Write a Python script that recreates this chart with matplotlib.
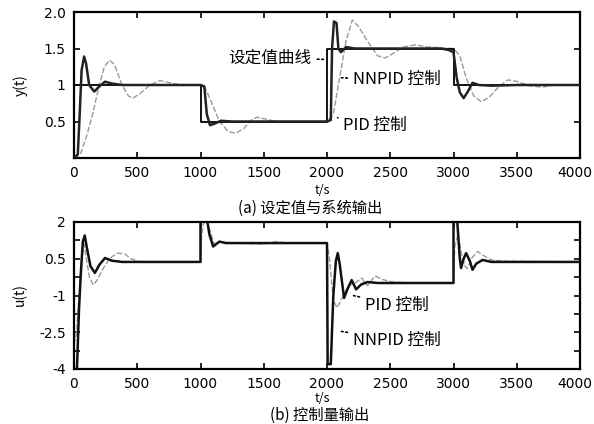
import matplotlib
matplotlib.use("Agg")
import matplotlib.pyplot as plt
from matplotlib.transforms import ScaledTranslation

plt.rcParams['font.family'] = ['Noto Sans CJK SC', 'DejaVu Sans']

# ---------------- data ----------------
xticks = [0, 500, 1000, 1500, 2000, 2500, 3000, 3500, 4000]
xticklabels = ['0', '500', '1000', '1500', '2000', '2500', '3000', '3500', '4000']

top_yticks = [0, 0.5, 1.0, 1.5, 2.0]
top_yticklabels = ['', '0.5', '1', '1.5', '2.0']
bot_yticks = [-4, -2.5, -1, 0.5, 2]
bot_yticklabels = ['-4', '-2.5', '-1', '0.5', '2']
bot_yminor = [-3.25, -1.75, -0.25, 1.25]

# set-point curve
t_sp = [0, 0, 1000, 1000, 2000, 2000, 3000, 3000, 4000]
y_sp = [0, 1, 1, 0.5, 0.5, 1.5, 1.5, 1, 1]

# NNPID output y(t)
t_nn = [0, 30, 45, 60, 80, 95, 120, 160, 200, 245, 300, 380, 1000, 1030, 1050,
        1075, 1110, 1160, 1250, 2000, 2030, 2040, 2055, 2075, 2090, 2110, 2150,
        2220, 2900, 2960, 3000, 3025, 3050, 3080, 3110, 3150, 3200, 3300, 3500, 4000]
y_nn = [0, 0.05, 0.6, 1.2, 1.39, 1.3, 1.0, 0.91, 0.98, 1.045, 1.02, 1.0, 1.0, 0.98, 0.6,
        0.45, 0.47, 0.51, 0.5, 0.5, 0.52, 1.5, 1.87, 1.85, 1.5, 1.45, 1.52,
        1.5, 1.5, 1.48, 1.45, 1.1, 0.9, 0.82, 0.9, 1.03, 1.0, 0.99, 1.0, 1.0]

# PID output y(t)
t_pid = [0, 50, 100, 150, 200, 240, 280, 320, 380, 430, 465, 520, 600, 680, 760, 850,
         1000, 1040, 1090, 1150, 1220, 1280, 1340, 1400, 1450, 1520, 1600, 2000, 2050,
         2100, 2150, 2200, 2250, 2320, 2400, 2460, 2520, 2600, 2700, 2800, 3000, 3050,
         3100, 3160, 3220, 3280, 3360, 3430, 3500, 3600, 3700, 3800, 4000]
y_pid = [0, 0.05, 0.3, 0.62, 1.0, 1.25, 1.34, 1.28, 1.0, 0.85, 0.82, 0.88, 1.0, 1.06, 1.03, 1.0,
         1.0, 0.95, 0.75, 0.5, 0.36, 0.34, 0.4, 0.52, 0.56, 0.53, 0.5, 0.5, 0.6,
         1.1, 1.6, 1.89, 1.8, 1.6, 1.4, 1.37, 1.43, 1.52, 1.55, 1.52, 1.5, 1.4,
         1.1, 0.85, 0.77, 0.83, 0.98, 1.07, 1.05, 0.99, 0.97, 1.0, 1.0]

# NNPID control u(t)
tu_nn = [0, 20, 40, 55, 70, 85, 100, 130, 165, 200, 245, 300, 380, 1000, 1000, 1040,
         1070, 1100, 1150, 1200, 2000, 2005, 2030, 2050, 2070, 2085, 2100, 2135, 2165,
         2195, 2230, 2270, 2320, 2400, 3000, 3000, 3030, 3050, 3060, 3080, 3100, 3130,
         3150, 3180, 3230, 3300, 4000]
u_nn = [-4.5, -4.5, -1.5, 0.0, 1.2, 1.45, 1.0, 0.2, -0.08, 0.25, 0.53, 0.42, 0.37, 0.37, 2.5, 2.5,
        1.5, 1.0, 1.2, 1.14, 1.14, -3.8, -3.8, -1.0, 0.4, 0.73, 0.3, -1.1, -0.7,
        -0.37, -0.75, -0.55, -0.45, -0.49, -0.49, 2.5, 2.0, 0.5, 0.12, 0.5, 0.73, 0.4,
        0.05, 0.3, 0.45, 0.37, 0.37]

# PID control u(t)
tu_pid = [0, 20, 40, 60, 80, 95, 120, 150, 180, 230, 280, 340, 400, 450, 520, 1000,
          1010, 1030, 1060, 1090, 1110, 1150, 1250, 1500, 1600, 1700, 2000, 2020, 2050,
          2080, 2120, 2170, 2220, 2275, 2320, 2380, 2440, 2520, 2700, 3000, 3010, 3035,
          3060, 3090, 3110, 3140, 3190, 3230, 3300, 3400, 4000]
u_pid = [-3.0, -2.5, -1.0, 0.5, 1.1, 0.6, -0.2, -0.57, -0.4, 0.1, 0.5, 0.73, 0.7, 0.5, 0.38, 0.37,
         1.5, 2.1, 1.9, 1.4, 1.1, 1.2, 1.15, 1.1, 1.2, 1.14, 1.14, 0.5, -1.2,
         -1.5, -1.1, -0.6, -0.5, -0.29, -0.6, -0.2, -0.35, -0.45, -0.49, -0.49, 1.0, 1.5,
         0.8, 0.2, 0.1, 0.5, 0.8, 0.65, 0.45, 0.4, 0.37]

# ---------------- figure ----------------
W, H = 594, 424
fig = plt.figure(figsize=(W / 100, H / 100), dpi=100)

def px_axes(l, t, r, b):
    return fig.add_axes([l / W, 1 - b / H, (r - l) / W, (b - t) / H])

ax1 = px_axes(74, 12, 580, 158)
ax2 = px_axes(74, 222, 580, 369)

gray = '#9a9a9a'
for ax in (ax1, ax2):
    for s in ax.spines.values():
        s.set_linewidth(1.6)
    ax.set_xlim(0, 4000)
    ax.set_xticks(xticks)
    ax.set_xticklabels(xticklabels)
    ax.tick_params(direction='in', top=True, right=True, length=4, width=1.2,
                   labelsize=10, pad=6)

# top
ax1.plot(t_pid, y_pid, color=gray, lw=1.0, ls='--', dashes=(4, 1.5), zorder=2)
ax1.plot(t_sp, y_sp, color='black', lw=1.3, zorder=3)
ax1.plot(t_nn, y_nn, color='#222222', lw=1.8, zorder=4)
ax1.set_ylim(0, 2)
ax1.set_yticks(top_yticks)
ax1.set_yticklabels(top_yticklabels)

# bottom
ax2.plot(tu_pid, u_pid, color=gray, lw=1.0, ls='--', dashes=(4, 1.5), zorder=2)
ax2.plot(tu_nn, u_nn, color='#111111', lw=1.8, zorder=3)
ax2.set_ylim(-4, 2)
ax2.set_yticks(bot_yticks)
ax2.set_yticklabels(bot_yticklabels)
ax2.set_yticks(bot_yminor, minor=True)
ax2.tick_params(which='minor', direction='in', right=True, left=True, length=4, width=1.2)

for ax in (ax1, ax2):
    for lab in ax.get_xticklabels() + ax.get_yticklabels():
        lab.set_family('DejaVu Sans')
    last = ax.get_xticklabels()[-1]
    last.set_transform(last.get_transform() + ScaledTranslation(-5 / 100, 0, fig.dpi_scale_trans))

# annotations
lead = dict(arrowstyle='-', linestyle=':', color='black', lw=1.2)
fs = 12
ax1.annotate('设定值曲线', xy=(2000, 1.35), xytext=(1880, 1.37), ha='right', va='center',
             fontsize=fs, arrowprops=lead)
ax1.annotate('NNPID 控制', xy=(2093, 1.10), xytext=(2205, 1.07), ha='left', va='center',
             fontsize=fs, arrowprops=lead)
ax1.annotate('PID 控制', xy=(2062, 0.56), xytext=(2130, 0.44), ha='left', va='center',
             fontsize=fs, arrowprops=lead)
ax2.annotate('PID 控制', xy=(2188, -0.98), xytext=(2300, -1.39), ha='left', va='center',
             fontsize=fs, arrowprops=lead)
ax2.annotate('NNPID 控制', xy=(2093, -2.45), xytext=(2205, -2.82), ha='left', va='center',
             fontsize=fs, arrowprops=lead)

# axis labels / captions
fig.text(20 / W, 1 - 85 / H, 'y(t)', rotation=90, ha='center', va='center', fontsize=10)
fig.text(20 / W, 1 - 295 / H, 'u(t)', rotation=90, ha='center', va='center', fontsize=10)
fig.text(322 / W, 1 - 191 / H, 't/s', ha='center', va='center', fontsize=9)
fig.text(310 / W, 1 - 208 / H, '(a) 设定值与系统输出', ha='center', va='center', fontsize=11)
fig.text(322 / W, 1 - 399 / H, 't/s', ha='center', va='center', fontsize=9)
fig.text(320 / W, 1 - 415 / H, '(b) 控制量输出', ha='center', va='center', fontsize=11)

fig.savefig('out.png', dpi=100)
